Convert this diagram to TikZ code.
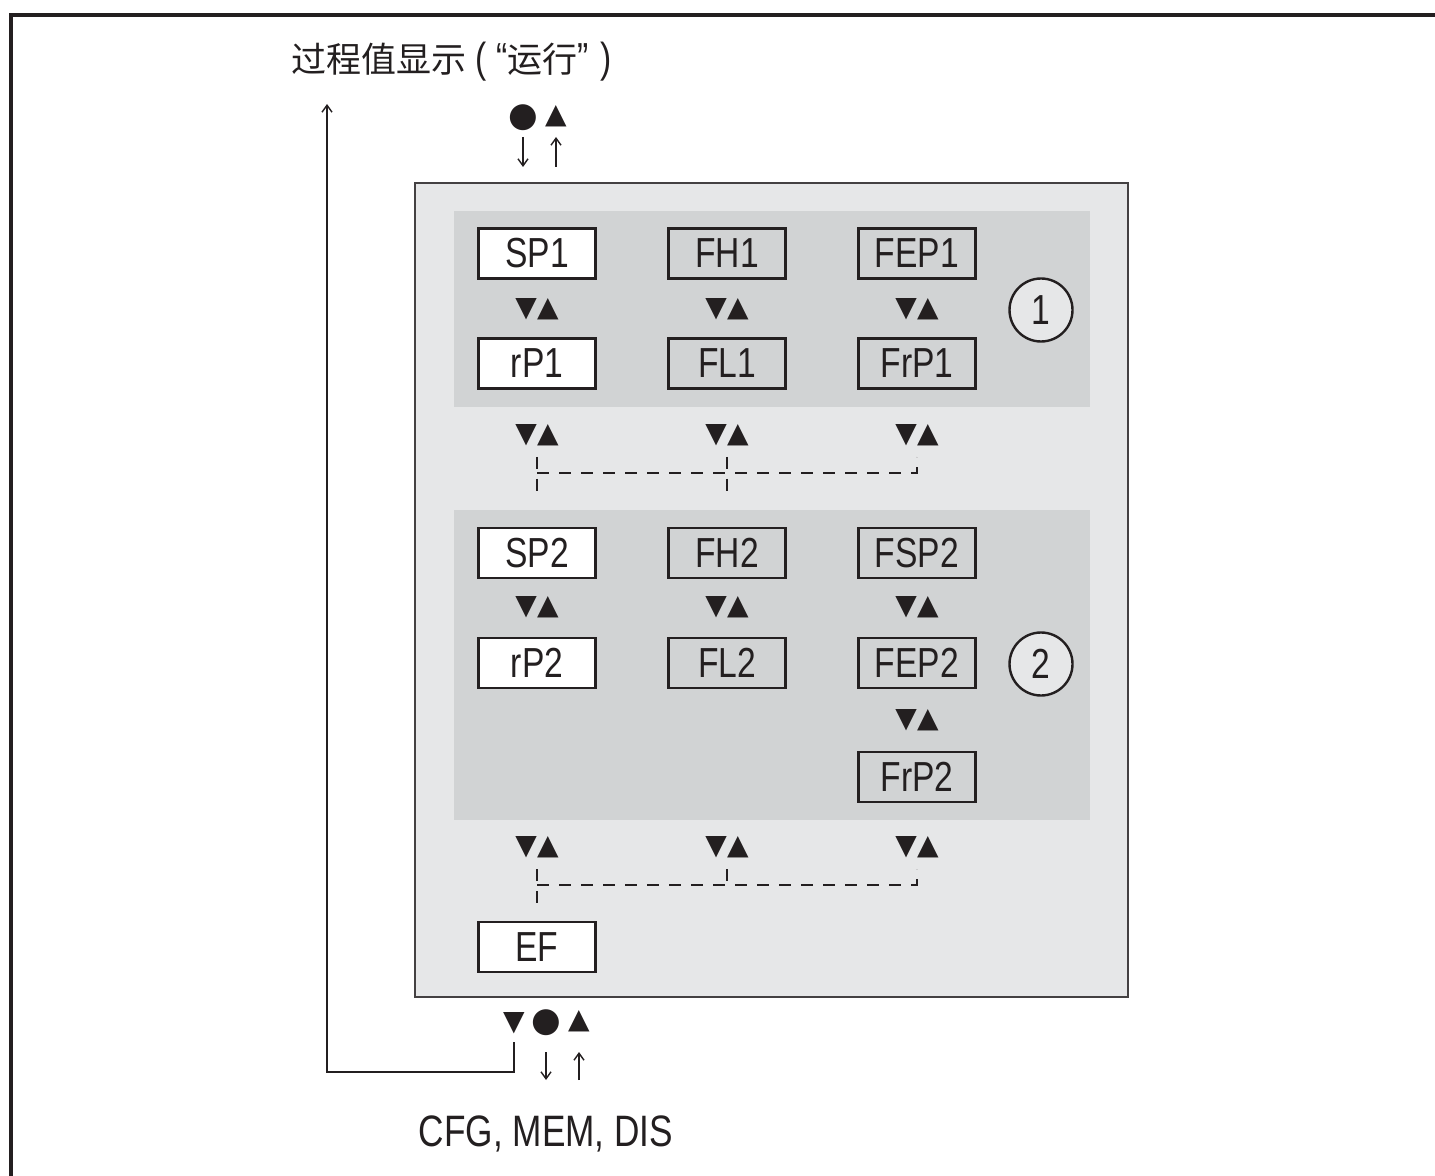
\documentclass[tikz,border=0pt]{standalone}
\usepackage{fontspec}
\setmainfont{Liberation Sans}[FakeStretch=0.8]
\newfontfamily\cjkfont{Noto Sans CJK SC}
\newfontfamily\symfont{DejaVu Sans}
\usetikzlibrary{positioning, arrows.meta}
\definecolor{ink}{HTML}{231F20}
\definecolor{panel}{HTML}{D1D3D4}
\definecolor{shell}{HTML}{E6E7E8}
\tikzset{
  every node/.style={text=ink},
}

\begin{document}
\begin{tikzpicture}[
  x=0.5pt, y=-0.5pt, on grid,
  param/.style={
    draw=ink, line width=1.4pt, minimum width=58.5pt, minimum height=25pt,
    inner sep=0pt, font=\fontsize{21}{21}\selectfont
  },
  master/.style={param, fill=white},
  keys/.style={font=\symfont\fontsize{14}{14}\selectfont, inner sep=0pt},
  dot/.style={font=\symfont\fontsize{17}{17}\selectfont, inner sep=0pt},
  group/.style={
    circle, draw=ink, line width=1.2pt, fill=shell, minimum size=31.5pt,
    inner sep=0pt, font=\fontsize{21}{21}\selectfont
  },
  flow/.style={-{Straight Barb[length=3.5pt, width=5pt]}, line width=0.7pt, ink},
  link/.style={dash pattern=on 6pt off 5pt, line width=0.6pt, ink}
]
  \useasboundingbox (0,0) rectangle (1435,1176);
  \draw[ink, line width=2pt] (11.3,1176) -- (11.3,15.3) -- (1435,15.3);

  % menu area
  \draw[ink!85, line width=1pt, fill=shell] (415,183) rectangle (1128,997);
  \fill[panel] (454,211) rectangle (1090,407);
  \fill[panel] (454,510) rectangle (1090,820);

  \node[anchor=west, inner sep=0pt, font=\fontsize{21}{21}\selectfont] (title) at (291,62)
    {{\cjkfont\fontsize{17.5}{17.5}\selectfont 过程值显示} ( “{\cjkfont\fontsize{17.5}{17.5}\selectfont 运行}”\hspace{6pt})};
  \node[dot] (enter1) at (523,118) {●};
  \node[keys] (up1) at (556,116) {▲};
  \draw[flow] (enter1.center |- 0,137) -- ++(0,30);
  \draw[flow] (up1.center |- 0,167) -- ++(0,-30);

  % switch point 1
  \node[master] (sp1) at (537,253.5) {SP1};
  \node[param, right=95pt of sp1] (fh1) {FH1};
  \node[param, right=95pt of fh1] (fep1) {FEP1};
  \node[master, below=55pt of sp1] (rp1) {rP1};
  \node[param, below=55pt of fh1] (fl1) {FL1};
  \node[param, below=55pt of fep1] (frp1) {FrP1};
  \node[keys] (sel1a) at (537,309) {▼▲};
  \node[keys] (sel1b) at (727,309) {▼▲};
  \node[keys] (sel1c) at (917,309) {▼▲};
  \node[group] (g1) at (1041,310) {1};

  \node[keys] (nav1a) at (537,435) {▼▲};
  \node[keys] (nav1b) at (727,435) {▼▲};
  \node[keys] (nav1c) at (917,435) {▼▲};
  \draw[link] (nav1a.center |- 0,457) -- (nav1a.center |- 0,495);
  \draw[link] (nav1b.center |- 0,457) -- (nav1b.center |- 0,495);
  \draw[link] (nav1a.center |- 0,473) -- (nav1c.center |- 0,473) -- (nav1c.center |- 0,457);

  % switch point 2
  \node[master] (sp2) at (537,553) {SP2};
  \node[param, right=95pt of sp2] (fh2) {FH2};
  \node[param, right=95pt of fh2] (fsp2) {FSP2};
  \node[master, below=55pt of sp2] (rp2) {rP2};
  \node[param, below=55pt of fh2] (fl2) {FL2};
  \node[param, below=55pt of fsp2] (fep2) {FEP2};
  \node[param, below=57pt of fep2] (frp2) {FrP2};
  \node[keys] (sel2a) at (537,607) {▼▲};
  \node[keys] (sel2b) at (727,607) {▼▲};
  \node[keys] (sel2c) at (917,607) {▼▲};
  \node[keys] (sel2d) at (917,720) {▼▲};
  \node[group] (g2) at (1041,664) {2};

  \node[keys] (nav2a) at (537,847) {▼▲};
  \node[keys] (nav2b) at (727,847) {▼▲};
  \node[keys] (nav2c) at (917,847) {▼▲};
  \draw[link] (nav2a.center |- 0,869) -- (nav2a.center |- 0,905);
  \draw[link] (nav2b.center |- 0,869) -- (nav2b.center |- 0,885);
  \draw[link] (nav2a.center |- 0,885) -- (nav2c.center |- 0,885) -- (nav2c.center |- 0,869);

  \node[master] (ef) at (537,947) {EF};

  % exit
  \node[keys] (down0) at (514,1023) {▼};
  \node[dot] (enter0) at (546,1023) {●};
  \node[keys] (up0) at (579,1021) {▲};
  \draw[flow] (enter0.center |- 0,1052) -- ++(0,28);
  \draw[flow] (up0.center |- 0,1080) -- ++(0,-28);
  \coordinate (ret) at (327,104);
  \draw[flow] (down0.center |- 0,1042) |- (ret |- 0,1072) -- (ret);

  \node (menus) at (546,1134) {\fontsize{22}{22}\selectfont CFG, MEM, DIS};
\end{tikzpicture}
\end{document}
